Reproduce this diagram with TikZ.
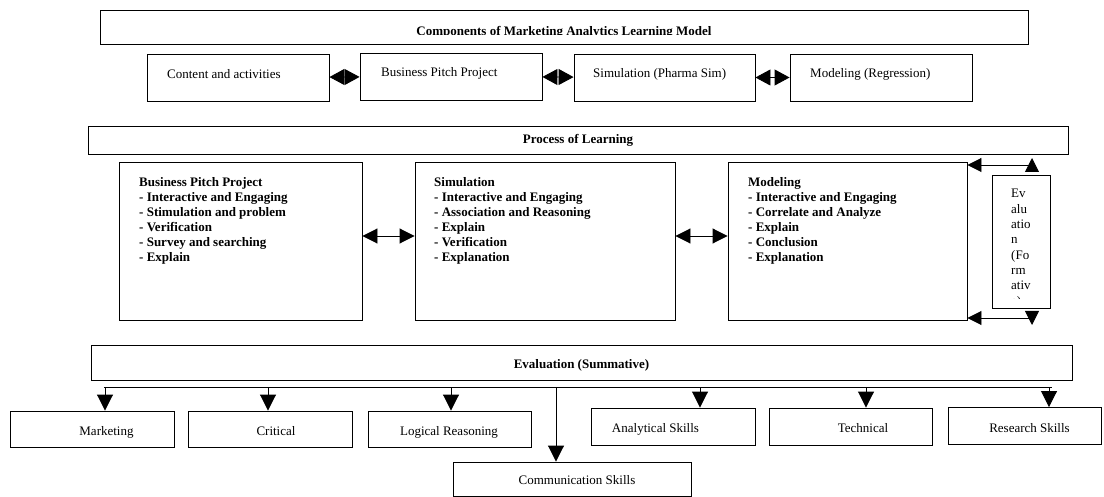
\documentclass[tikz,border=0pt]{standalone}
\usepackage{fontspec}
\setmainfont{Liberation Serif}
\usetikzlibrary{arrows.meta}

\begin{document}
\begin{tikzpicture}[x=1pt,y=-1pt,
    every node/.style={inner sep=0pt, font=\fontsize{13}{15}\selectfont},
    frame/.style={draw, line width=0.9pt, fill=white},
    headtext/.style={anchor=base, font=\fontsize{13}{15}\selectfont\bfseries},
    boxtext/.style={anchor=base west},
    skilltext/.style={anchor=base},
    listtext/.style={anchor=north west, align=left, font=\fontsize{13}{15}\selectfont\bfseries},
    link/.style={line width=0.9pt},
    pairarrow/.style={link, {Triangle[length=15pt,width=16pt]}-{Triangle[length=15pt,width=16pt]}},
    midarrow/.style={link, {Triangle[length=15pt,width=15pt]}-{Triangle[length=15pt,width=15pt]}},
    fbarrow/.style={link, {Triangle[length=14pt,width=14pt]}-{Triangle[length=14pt,width=14pt]}},
    downarrow/.style={link, -{Triangle[length=16pt,width=16pt]}}]
    \useasboundingbox (0,0) rectangle (1104,497);

    % Components of the model
    \node[frame, minimum width=928pt, minimum height=34pt] (title) at (564,27) {};
    \begin{scope}
        \clip (100,10) rectangle (1028,34.5);
        \node[headtext] (titletext) at (564,35.5) {Components of Marketing Analytics Learning Model};
    \end{scope}

    \node[frame, minimum width=182pt, minimum height=47pt] (cont) at (238,77.5) {};
    \node[boxtext] (conttext) at (167,79) {Content and activities};

    \node[frame, minimum width=182pt, minimum height=47pt] (bpp) at (451,76.5) {};
    \node[boxtext] (bpptext) at (381,77) {Business Pitch Project};

    \node[frame, minimum width=181pt, minimum height=47pt] (sim) at (664.5,77.5) {};
    \node[boxtext] (simtext) at (593,78) {Simulation (Pharma Sim)};

    \node[frame, minimum width=182pt, minimum height=47pt] (mod) at (881,77.5) {};
    \node[boxtext] (modtext) at (810,78) {Modeling (Regression)};

    \draw[pairarrow] (cont) -- (bpp);
    \draw[pairarrow] (bpp) -- (sim);
    \draw[pairarrow] (sim) -- (mod);

    % Process of learning
    \node[frame, minimum width=980pt, minimum height=28pt] (process) at (578,140) {};
    \node[headtext] (processtext) at (578,143.5) {Process of Learning};

    \node[frame, minimum width=243pt, minimum height=158pt] (bppbig) at (240.5,241) {};
    \node[listtext] (bpplist) at (139,176) {\strut Business Pitch Project\\- Interactive and Engaging\\- Stimulation and problem\\- Verification\\- Survey and searching\\- Explain};

    \node[frame, minimum width=260pt, minimum height=158pt] (simbig) at (545,241) {};
    \node[listtext] (simlist) at (434,176) {\strut Simulation\\- Interactive and Engaging\\- Association and Reasoning\\- Explain\\- Verification\\- Explanation};

    \node[frame, minimum width=239pt, minimum height=158pt] (modbig) at (847.5,241) {};
    \node[listtext] (modlist) at (748,176) {\strut Modeling\\- Interactive and Engaging\\- Correlate and Analyze\\- Explain\\- Conclusion\\- Explanation};

    \node[frame, minimum width=58pt, minimum height=133pt] (formative) at (1021,241.5) {};
    \begin{scope}
        \clip (992,175) rectangle (1050,298.5);
        \node[anchor=north west, align=left, font=\fontsize{13}{15.3}\selectfont] (formtext) at (1011,187) {\strut Ev\\alu\\atio\\n\\(Fo\\rm\\ativ\\e)};
    \end{scope}

    % Arrows
    \draw[midarrow] ([yshift=5pt]bppbig.east) -- ([yshift=5pt]simbig.west);
    \draw[midarrow] ([yshift=5pt]simbig.east) -- ([yshift=5pt]modbig.west);

    \coordinate (fbtop) at (1032,165);
    \coordinate (fbbot) at (1032,318);
    \draw[fbarrow] (fbtop -| modbig.east) -- (fbtop) -- ++(0,-7);
    \draw[fbarrow] (fbbot -| modbig.east) -- (fbbot) -- ++(0,7);

    % Evaluation (summative) and skills
    \node[frame, minimum width=981pt, minimum height=35pt] (summ) at (581.5,362.5) {};
    \node[headtext] (summtext) at (581.5,368) {Evaluation (Summative)};

    \node[frame, minimum width=164pt, minimum height=36pt] (mkt) at (92,429) {};
    \node[skilltext] (mkttext) at (106.5,435) {Marketing};
    \node[frame, minimum width=164pt, minimum height=36pt] (crit) at (270,429) {};
    \node[skilltext] (crittext) at (276,435) {Critical};
    \node[frame, minimum width=163pt, minimum height=36pt] (logic) at (449.5,429) {};
    \node[skilltext] (logictext) at (449,435) {Logical Reasoning};
    \node[frame, minimum width=238pt, minimum height=34pt] (comm) at (572,479) {};
    \node[skilltext] (commtext) at (577,484) {Communication Skills};
    \node[frame, minimum width=164pt, minimum height=37pt] (anal) at (673,426.5) {};
    \node[skilltext] (analtext) at (655.5,432) {Analytical Skills};
    \node[frame, minimum width=163pt, minimum height=37pt] (tech) at (850.5,426.5) {};
    \node[skilltext] (techtext) at (863,432) {Technical};
    \node[frame, minimum width=153pt, minimum height=37pt] (res) at (1024.5,426) {};
    \node[skilltext] (restext) at (1029.5,432) {Research Skills};

    \coordinate (busL) at (104,387);
    \coordinate (busR) at (1052,387);
    \draw[link] (busL) -- (busR);

    \coordinate (tapmkt) at (105,387);
    \coordinate (tapcrit) at (268,387);
    \coordinate (taplogic) at (451,387);
    \coordinate (tapcomm) at (556,387);
    \coordinate (tapanal) at (700,387);
    \coordinate (taptech) at (866,387);
    \coordinate (tapres) at (1049,387);
    \draw[downarrow] (tapmkt) -- (tapmkt |- mkt.north);
    \draw[downarrow] (tapcrit) -- (tapcrit |- crit.north);
    \draw[downarrow] (taplogic) -- (taplogic |- logic.north);
    \draw[downarrow] (tapcomm) -- (tapcomm |- comm.north);
    \draw[downarrow] (tapanal) -- (tapanal |- anal.north);
    \draw[downarrow] (taptech) -- (taptech |- tech.north);
    \draw[downarrow] (tapres) -- (tapres |- res.north);
\end{tikzpicture}
\end{document}
